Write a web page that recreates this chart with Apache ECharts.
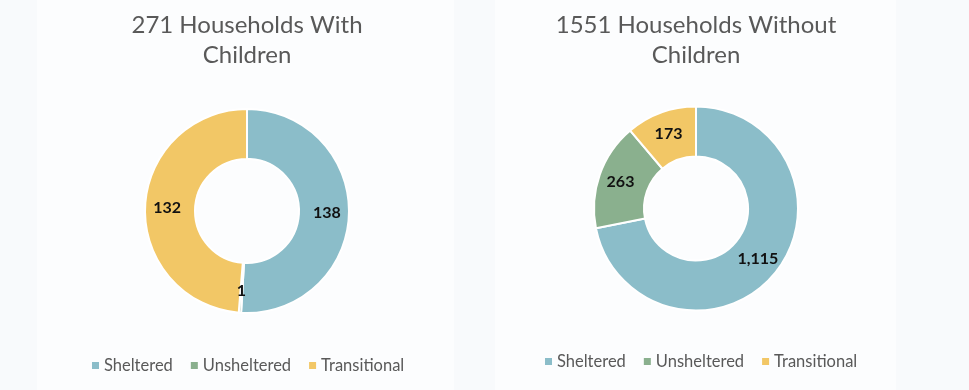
<!DOCTYPE html>
<html><head><meta charset="utf-8">
<script src="https://cdn.jsdelivr.net/npm/echarts@6/dist/echarts.min.js"></script>
<style>html,body{margin:0;padding:0;background:#f8fafc;}#c{width:969px;height:390px;}</style>
</head><body><div id="c"></div>
<script>
const categories = ['Sheltered', 'Unsheltered', 'Transitional'];
const withChildren = [138, 1, 132];
const withoutChildren = [1115, 263, 173];
const titles = ['271 Households With\nChildren', '1551 Households Without\nChildren'];
const colors = ['#8bbdc9', '#8ab08e', '#f2c766'];

const chart = echarts.init(document.getElementById('c'));
const font = 'Lato, "Open Sans", sans-serif';
function mk(vals){ return categories.map((n,i)=>({name:n, value:vals[i]})); }
function pie(vals, cx, cy){
  return {
    type:'pie', center:[cx,cy], radius:[52,102], startAngle:90, clockwise:true,
    avoidLabelOverlap:false, silent:true,
    itemStyle:{borderColor:'#ffffff', borderWidth:2},
    label:{show:true, position:'inside', color:'#111', fontWeight:'bold', fontSize:16, fontFamily:font,
      formatter:p=>p.value.toLocaleString('en-US')},
    labelLine:{show:false},
    data: mk(vals)
  };
}
const legendText = {fontFamily:font, fontSize:16.5, color:'#595959'};
chart.setOption({
  animation:false,
  color: colors,
  graphic:[
    {type:'rect', shape:{x:37,y:0,width:417,height:390}, style:{fill:'#fcfdfe'}, z:-10},
    {type:'rect', shape:{x:495,y:0,width:401,height:390}, style:{fill:'#fcfdfe'}, z:-10}
  ],
  title:[
    {text:titles[0], left:242, top:5, textAlign:'center', textStyle:{fontFamily:font, fontWeight:'normal', fontSize:24, color:'#595959', lineHeight:30}},
    {text:titles[1], left:691, top:5, textAlign:'center', textStyle:{fontFamily:font, fontWeight:'normal', fontSize:24, color:'#595959', lineHeight:30}}
  ],
  legend:[
    {data:categories, left:87, top:352, icon:'rect', itemWidth:7, itemHeight:7, itemGap:18, itemStyle:{borderWidth:0},
      textStyle:legendText, selectedMode:false},
    {data:categories, left:540, top:348, icon:'rect', itemWidth:7, itemHeight:7, itemGap:18, itemStyle:{borderWidth:0},
      textStyle:legendText, selectedMode:false}
  ],
  series:[pie(withChildren,247,211), pie(withoutChildren,696,208.5)]
});
</script></body></html>
